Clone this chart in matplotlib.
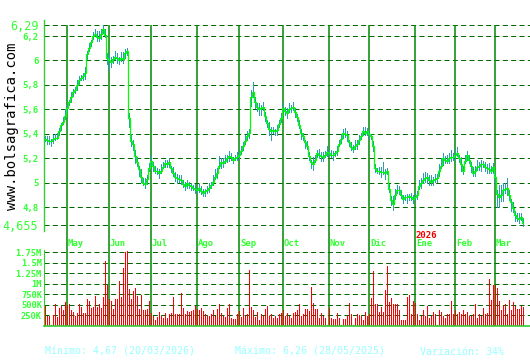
import numpy as np
import matplotlib
matplotlib.use("Agg")
import matplotlib.pyplot as plt

plt.rcParams['lines.scale_dashes'] = False

# closing prices per month (trading days)
apr = [5.36, 5.35, 5.34, 5.34, 5.36, 5.37, 5.37, 5.42, 5.47, 5.50, 5.55]
may = [5.61, 5.66, 5.70, 5.74, 5.76, 5.80, 5.84, 5.86, 5.87, 5.90, 6.05, 6.10, 6.15, 6.20, 6.22,
       6.19, 6.18, 6.22, 6.26, 6.21, 6.02]
jun = [6.00, 5.99, 6.01, 6.03, 6.02, 6.00, 6.02, 6.01, 6.06, 6.08, 5.53, 5.34, 5.32, 5.22, 5.17,
       5.11, 5.05, 5.00, 4.99, 5.03, 5.12]
jul = [5.18, 5.14, 5.10, 5.10, 5.08, 5.10, 5.13, 5.16, 5.15, 5.17, 5.12, 5.08, 5.05, 5.04, 5.03,
       5.02, 4.99, 4.97, 5.00, 4.98, 4.97, 4.96, 4.95]
ago = [4.94, 4.96, 4.93, 4.92, 4.93, 4.94, 4.96, 4.98, 5.01, 5.05, 5.08, 5.14, 5.17, 5.16, 5.18,
       5.20, 5.22, 5.21, 5.19, 5.20, 5.21]
sep = [5.23, 5.26, 5.30, 5.34, 5.38, 5.41, 5.70, 5.74, 5.66, 5.62, 5.60, 5.61, 5.62, 5.55, 5.49,
       5.44, 5.42, 5.43, 5.42, 5.43, 5.48, 5.53]
octb = [5.61, 5.59, 5.57, 5.60, 5.61, 5.62, 5.58, 5.54, 5.47, 5.41, 5.38, 5.33, 5.30, 5.22, 5.17,
        5.15, 5.19, 5.24, 5.23, 5.22, 5.21, 5.23, 5.25]
nov = [5.24, 5.23, 5.23, 5.24, 5.26, 5.32, 5.36, 5.41, 5.40, 5.39, 5.33, 5.29, 5.28, 5.30, 5.32,
       5.35, 5.38, 5.42, 5.41, 5.42]
dic = [5.40, 5.38, 5.30, 5.12, 5.10, 5.10, 5.09, 5.09, 5.08, 5.10, 4.95, 4.86, 4.83, 4.90, 4.94,
       4.94, 4.90, 4.87, 4.88, 4.88, 4.89, 4.88, 4.87]
ene = [4.88, 4.90, 4.97, 5.00, 5.02, 5.04, 5.05, 5.02, 5.01, 5.02, 5.03, 5.04, 5.10, 5.14, 5.20,
       5.19, 5.18, 5.20, 5.21, 5.21]
feb = [5.23, 5.24, 5.20, 5.15, 5.10, 5.18, 5.23, 5.19, 5.14, 5.08, 5.10, 5.13, 5.14, 5.15, 5.15,
       5.13, 5.12, 5.11, 5.10, 5.13]
mar = [5.05, 4.91, 4.88, 4.90, 4.94, 4.95, 4.96, 4.90, 4.84, 4.79, 4.74, 4.71, 4.70, 4.72, 4.67]

months = [apr, may, jun, jul, ago, sep, octb, nov, dic, ene, feb, mar]
month_labels = ['May', 'Jun', 'Jul', 'Ago', 'Sep', 'Oct', 'Nov', 'Dic', 'Ene', 'Feb', 'Mar']

# daily high / low distance from close, in cents
hi_c = [2, 3, 4, 2, 3, 3, 4, 3, 2, 4, 5,
        3, 2, 4, 3, 2, 4, 3, 2, 3, 5, 3, 4, 2, 3, 4, 5, 6, 4, 3, 5, 4,
        6, 4, 3, 5, 4, 3, 5, 6, 3, 2, 4, 6, 3, 5, 4, 3, 6, 4, 5, 3, 4,
        5, 3, 4, 2, 3, 5, 4, 3, 4, 3, 2, 5, 4, 3, 3, 4, 3, 4, 2, 3, 3, 2, 4,
        2, 3, 4, 3, 2, 3, 4, 3, 5, 6, 4, 8, 3, 4, 5, 3, 4, 3, 2, 3, 4,
        3, 4, 3, 5, 4, 3, 6, 8, 4, 3, 5, 3, 4, 3, 2, 6, 4, 3, 2, 4, 3, 4,
        5, 3, 4, 5, 3, 4, 3, 2, 4, 3, 3, 2, 4, 3, 2, 6, 4, 3, 5, 3, 4, 3, 5,
        3, 4, 3, 2, 4, 3, 4, 3, 5, 3, 2, 4, 3, 5, 3, 4, 3, 4, 5, 3,
        3, 2, 4, 3, 2, 3, 4, 8, 3, 2, 4, 3, 6, 5, 4, 3, 4, 3, 2, 3, 2, 4, 3,
        4, 3, 5, 4, 6, 5, 3, 4, 5, 3, 4, 3, 5, 6, 4, 3, 5, 4, 6, 3,
        4, 5, 3, 6, 4, 5, 3, 4, 3, 5, 4, 6, 3, 4, 3, 4, 3, 5, 4, 3,
        4, 3, 10, 8, 6, 5, 8, 4, 3, 5, 3, 4, 5, 3, 4]
lo_c = [3, 4, 3, 5, 4, 3, 2, 4, 5, 3, 4,
        4, 3, 5, 4, 3, 5, 4, 3, 4, 6, 5, 3, 4, 3, 2, 4, 3, 5, 4, 3, 6,
        9, 5, 4, 3, 5, 4, 3, 4, 5, 4, 8, 5, 6, 7, 4, 6, 5, 3, 4, 5, 3,
        4, 5, 3, 4, 5, 3, 2, 4, 3, 5, 4, 3, 4, 5, 3, 4, 3, 4, 5, 3, 4, 3, 4,
        3, 4, 3, 4, 5, 3, 4, 3, 4, 3, 5, 3, 6, 4, 3, 4, 5, 3, 4, 2, 3,
        4, 3, 4, 3, 4, 5, 8, 5, 6, 4, 5, 6, 3, 5, 4, 6, 8, 3, 4, 5, 3, 4,
        3, 4, 5, 3, 4, 3, 5, 4, 3, 6, 4, 5, 3, 4, 6, 5, 3, 4, 3, 5, 4, 3, 4,
        4, 3, 5, 3, 4, 3, 4, 5, 3, 6, 4, 3, 4, 3, 5, 4, 3, 4, 3, 4,
        4, 3, 5, 4, 3, 4, 5, 3, 6, 4, 3, 5, 6, 4, 3, 4, 3, 4, 3, 5, 4, 3, 4,
        3, 4, 3, 5, 3, 4, 6, 5, 4, 5, 3, 4, 5, 3, 6, 4, 3, 5, 4, 3,
        5, 3, 4, 6, 4, 3, 5, 4, 6, 3, 5, 3, 4, 6, 3, 4, 5, 4, 3, 6,
        8, 12, 9, 6, 10, 4, 7, 5, 8, 4, 6, 3, 4, 3, 3]

# daily volume, millions of shares
volume = [0.47, 0.24, 0.24, 0.03, 0.27, 0.51, 0.21, 0.43, 0.47, 0.38, 0.57, 0.50, 0.53, 0.38, 0.33,
          0.24, 0.30, 0.51, 0.44, 0.30, 0.30, 0.63, 0.60, 0.43, 0.44, 0.72, 0.44, 0.53, 0.43, 0.68,
          1.54, 0.98, 0.65, 0.59, 0.40, 0.65, 0.65, 1.06, 0.68, 1.36, 1.74, 1.77, 0.87, 0.64, 0.82,
          0.89, 0.71, 0.40, 0.74, 0.38, 0.38, 0.40, 0.59, 0.31, 0.24, 0.15, 0.22, 0.33, 0.24, 0.19,
          0.31, 0.19, 0.29, 0.31, 0.68, 0.29, 0.29, 0.29, 0.78, 0.43, 0.29, 0.36, 0.33, 0.36, 0.38,
          0.47, 0.40, 0.38, 0.43, 0.36, 0.29, 0.24, 0.24, 0.29, 0.38, 0.24, 0.40, 0.53, 0.31, 0.24,
          0.21, 0.43, 0.52, 0.19, 0.16, 0.16, 0.29, 0.36, 0.21, 0.43, 0.24, 0.29, 1.33, 0.45, 0.38,
          0.21, 0.33, 0.15, 0.29, 0.24,
          0.40, 0.47, 0.24, 0.29, 0.19, 0.24, 0.19, 0.29, 0.31, 0.38, 0.24, 0.31, 0.24, 0.19, 0.31,
          0.33, 0.38, 0.52, 0.24, 0.29, 0.40, 0.40, 0.36, 0.92, 0.54, 0.40, 0.40, 0.19, 0.31, 0.24,
          0.19, 0.03, 0.43, 0.19, 0.16, 0.16, 0.31, 0.19, 0.03, 0.16, 0.16, 0.24, 0.54, 0.29, 0.03,
          0.19, 0.29, 0.26, 0.24, 0.15, 0.33, 0.24, 0.29, 0.66, 1.29, 0.52, 0.52, 0.33, 0.45, 0.33,
          0.84, 1.41, 0.57, 0.66, 0.52, 0.52, 0.52, 0.38, 0.15, 0.15, 0.15, 0.68, 0.73, 0.29, 0.59,
          0.54, 0.29, 0.15, 0.24, 0.38, 0.24, 0.47, 0.19, 0.24, 0.33, 0.29, 0.03, 0.38, 0.33, 0.24,
          0.19, 0.29, 0.29, 0.59, 0.29, 0.38, 0.29, 0.33, 0.29, 0.38, 0.29, 0.33, 0.24, 0.24, 0.29,
          0.52, 0.19, 0.29, 0.24, 0.43, 0.29, 0.31, 1.12, 0.61, 0.98, 0.96, 0.91, 0.59, 0.38, 0.47,
          0.52, 0.29, 0.61, 0.38, 0.57, 0.47, 0.40, 0.40, 0.47, 0.45]

price_ticks = [6.29, 6.2, 6.0, 5.8, 5.6, 5.4, 5.2, 5.0, 4.8, 4.655]
price_tick_labels = ['6,29', '6,2', '6', '5,8', '5,6', '5,4', '5,2', '5', '4,8', '4,655']
vol_ticks = [0.25, 0.5, 0.75, 1.0, 1.25, 1.5, 1.75]
vol_tick_labels = ['250K', '500K', '750K', '1M', '1.25M', '1.5M', '1.75M']

close = np.concatenate(months)
high = close + np.array(hi_c) / 100
low = close - np.array(lo_c) / 100
x = np.arange(len(close))
month_pos = np.cumsum([len(m) for m in months])[:-1]

LIME = '#33ff33'
SPINE = '#33cc33'
VLINE = '#008800'
GRID = '#006600'
MONO = 'DejaVu Sans Mono'
PX = 72 / 100  # one pixel in points

W, H = 530, 360
fig = plt.figure(figsize=(W / 100, H / 100), dpi=100)
fig.patch.set_facecolor('white')

px_per_unit = 200 / (6.29 - 4.655)
ax = fig.add_axes([44 / W, 1 - 231 / H, (W - 44) / W, 211 / H])
ax.set_ylim(4.655 - 6 / px_per_unit, 6.29 + 5 / px_per_unit)
xlim = (-0.5, 242.5)
ax.set_xlim(*xlim)

for v in price_ticks:
    ax.axhline(v, color=GRID, lw=PX, ls=(0, (3.6, 2.4)), zorder=1)
ax.vlines(month_pos, 4.655, 6.29, color=VLINE, lw=1.1, zorder=2)
# high-low range bars, one pixel wide
ax.bar(x - 0.25, high - low, bottom=low, width=0.5, align='edge', color='#2a9db0',
       linewidth=0, antialiased=False, zorder=3)
ax.plot(x, close, color='#00ff00', lw=0.9, drawstyle='steps-mid', zorder=4)

ax.set_yticks(price_ticks)
ax.set_yticklabels(price_tick_labels)
ax.tick_params(axis='y', length=0, pad=4, labelcolor=LIME)
for lab, v in zip(ax.get_yticklabels(), price_ticks):
    big = v in (6.29, 4.655)
    lab.set_fontfamily(MONO)
    lab.set_fontsize(8.5 if big else 6.5)
    lab.set_fontweight('normal' if big else 'bold')
ax.set_xticks([])
for s in ['top', 'right', 'bottom']:
    ax.spines[s].set_visible(False)
ax.spines['left'].set_color(SPINE)
ax.spines['left'].set_linewidth(1.0)
ax.patch.set_alpha(0)

# volume panel
vax = fig.add_axes([44 / W, 1 - 326 / H, (W - 44) / W, 101 / H])
vpx = 74 / 1.75
vax.set_ylim(0, 101 / vpx)
vax.set_xlim(*xlim)
for v in vol_ticks:
    vax.axhline(v, color=GRID, lw=PX, ls=(0, (3.6, 2.4)), zorder=1)
vax.vlines(month_pos, 0, 101 / vpx, color=VLINE, lw=1.1, zorder=2)
vax.bar(x[:len(volume)] - 0.25, volume, width=0.5, align='edge', color='#ff0000',
        linewidth=0, antialiased=False, zorder=3)
vax.set_yticks(vol_ticks)
vax.set_yticklabels(vol_tick_labels, fontfamily=MONO, fontsize=6.3, fontweight='bold')
vax.tick_params(axis='y', length=0, pad=1.5, labelcolor=LIME)
vax.set_xticks([])
for s in ['top', 'right']:
    vax.spines[s].set_visible(False)
vax.spines['left'].set_color(SPINE)
vax.spines['left'].set_bounds(0, 76 / vpx)
vax.spines['bottom'].set_color(SPINE)
vax.spines['bottom'].set_linewidth(1.2)
vax.spines['bottom'].set_zorder(4)
vax.patch.set_alpha(0)

# month names between the panels
for p, lab in zip(month_pos, month_labels):
    vax.text(p + 0.5, (326 - 244) / vpx, lab, color=LIME, fontfamily=MONO, fontsize=6.5,
             fontweight='bold', ha='left', va='center')
ene_pos = month_pos[month_labels.index('Ene')]
vax.text(ene_pos + 0.5, (326 - 236) / vpx, '2026', color='#ee0000', fontfamily=MONO,
         fontsize=6.5, fontweight='bold', ha='left', va='center')

fig.text(12.5 / W, 1 - 126 / H, 'www.bolsagrafica.com', rotation=90, color='black',
         fontfamily=MONO, fontsize=10, ha='center', va='center')

foot = '#99ffff'
fig.text(45 / W, 1 - 352 / H, 'Mínimo: 4,67 (20/03/2026)', color=foot, fontfamily=MONO,
         fontsize=7.2, ha='left', va='center')
fig.text(235 / W, 1 - 352 / H, 'Máximo: 6,26 (28/05/2025)', color=foot, fontfamily=MONO,
         fontsize=7.2, ha='left', va='center')
fig.text(420 / W, 1 - 352 / H, 'Variación: 34%', color=foot, fontfamily=MONO,
         fontsize=7.2, ha='left', va='center')

fig.savefig('out.png', dpi=100)
